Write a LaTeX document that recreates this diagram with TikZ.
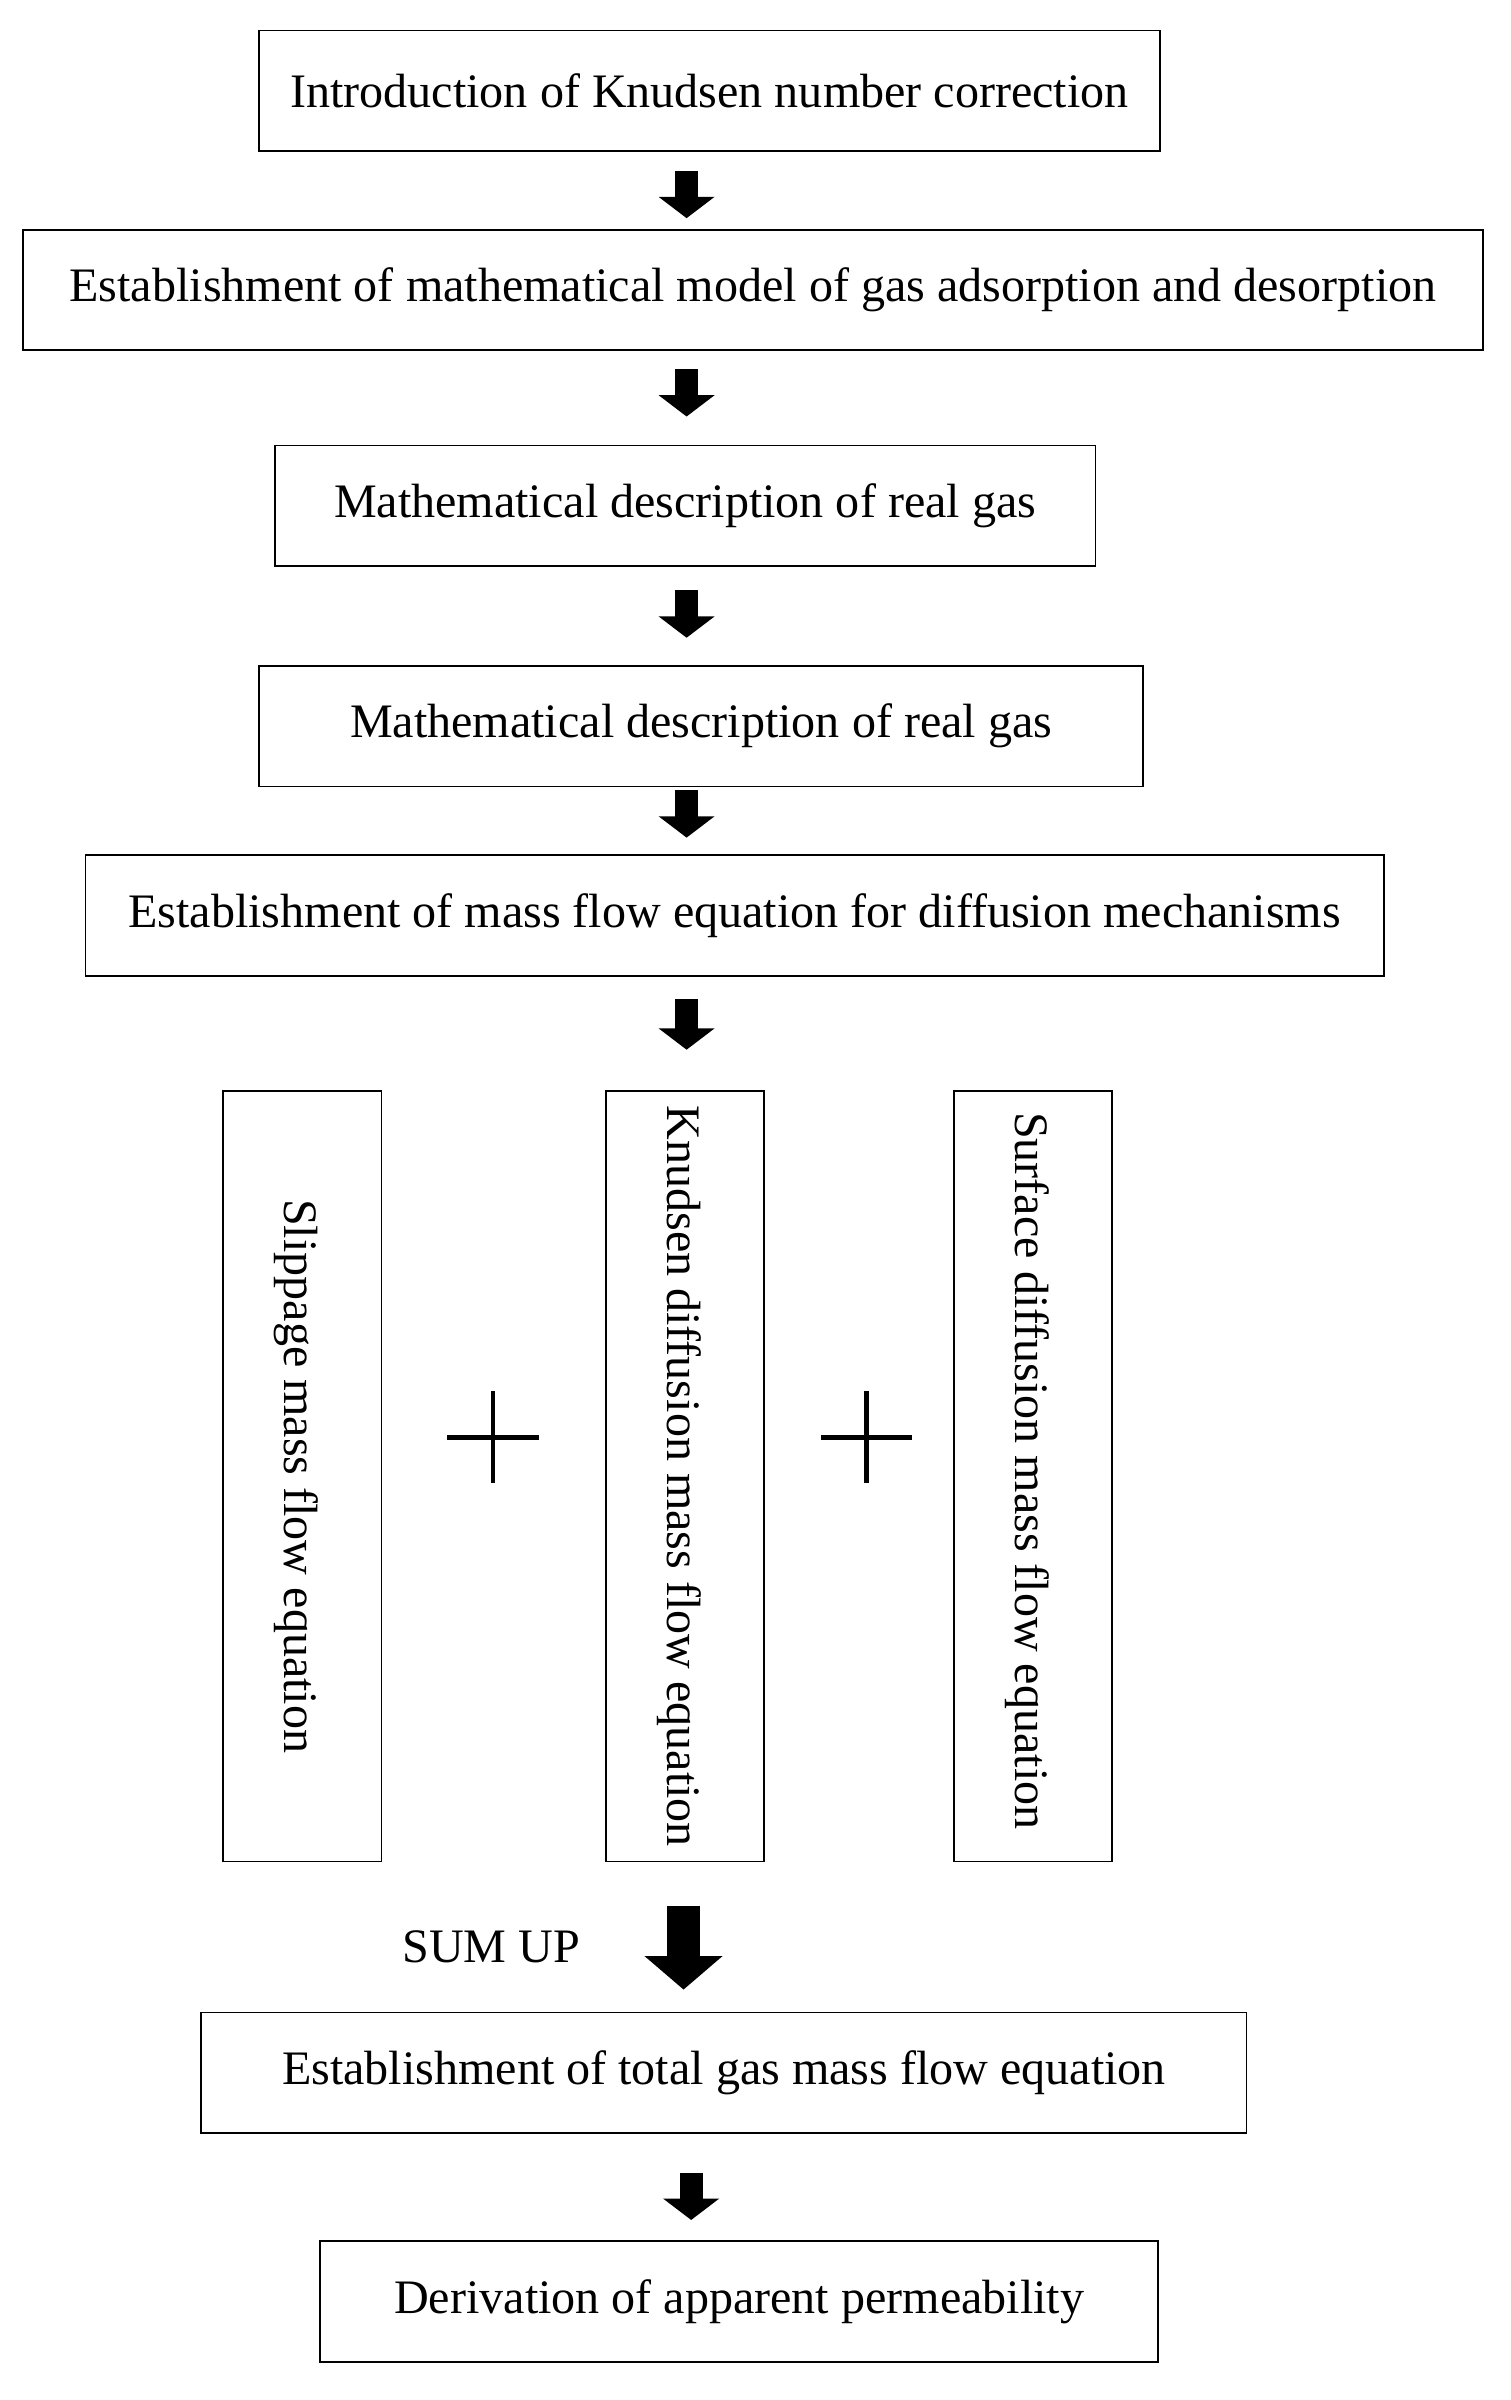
\documentclass[tikz,border=0pt]{standalone}
\usepackage{fontspec}
\setmainfont{Liberation Serif}
\usetikzlibrary{arrows.meta}
\begin{document}
\begin{tikzpicture}[x=1pt,y=-1pt,
  box/.style={draw,line width=1.2pt,minimum height=79pt,inner sep=0pt,font=\fontsize{31.5}{34}\selectfont},
  vbox/.style={draw,line width=1.2pt,minimum width=104pt,minimum height=505pt,inner sep=0pt},
  vtxt/.style={rotate=-90,font=\fontsize{31.5}{34}\selectfont},
  arr/.style={line width=15pt,-{Triangle[length=14pt,width=36pt]}},
  big/.style={line width=22pt,-{Triangle[length=22pt,width=50pt]}}]
\useasboundingbox (0,0) rectangle (990,1573);
\fill[white] (0,0) rectangle (990,1573);
\node[box,minimum width=590pt] (b1) at (465,59.5) {Introduction of Knudsen number correction};
\node[box,minimum width=957pt] (b2) at (493.5,190) {Establishment of mathematical model of gas adsorption and desorption};
\node[box,minimum width=538pt] (b3) at (449,331.5) {Mathematical description of real gas};
\node[box,minimum width=579pt] (b4) at (459.5,476) {Mathematical description of real gas};
\node[box,minimum width=851pt] (b5) at (481.5,600) {Establishment of mass flow equation for diffusion mechanisms};
\node[vbox] (v1) at (198,967.5) {};
\node[vbox] (v2) at (449,967.5) {};
\node[vbox] (v3) at (677,967.5) {};
\node[vtxt] (t1) at (194,967.5) {Slippage mass flow equation};
\node[vtxt] (t2) at (445,967.5) {Knudsen diffusion mass flow equation};
\node[vtxt] (t3) at (673,964) {Surface diffusion mass flow equation};
\node[box,minimum width=685pt] (b6) at (474.5,1358.5) {Establishment of total gas mass flow equation};
\node[box,minimum width=549pt] (b7) at (484.5,1508.5) {Derivation of apparent permeability};
\node[font=\fontsize{31.5}{34}\selectfont] (sum) at (322,1276) {SUM UP};
\node (p1) at (323,942) {}; \node (p2) at (568,942) {};
\draw[line width=3pt] (p1.center)++(-30,0) -- ++(60,0) (p1.center)++(0,-30) -- ++(0,60);
\draw[line width=3pt] (p2.center)++(-30,0) -- ++(60,0) (p2.center)++(0,-30) -- ++(0,60);
\coordinate (a1s) at (450,112); \coordinate (a1e) at (450,143);
\coordinate (a2s) at (450,242); \coordinate (a2e) at (450,273);
\coordinate (a3s) at (450,387); \coordinate (a3e) at (450,418);
\coordinate (a4s) at (450,518); \coordinate (a4e) at (450,549);
\coordinate (a5s) at (450,655); \coordinate (a5e) at (450,688);
\coordinate (a6s) at (448,1249); \coordinate (a6e) at (448,1304);
\coordinate (a7s) at (453,1424); \coordinate (a7e) at (453,1455);
\draw[arr] (a1s) -- (a1e);
\draw[arr] (a2s) -- (a2e);
\draw[arr] (a3s) -- (a3e);
\draw[arr] (a4s) -- (a4e);
\draw[arr] (a5s) -- (a5e);
\draw[big] (a6s) -- (a6e);
\draw[arr] (a7s) -- (a7e);
\end{tikzpicture}
\end{document}
